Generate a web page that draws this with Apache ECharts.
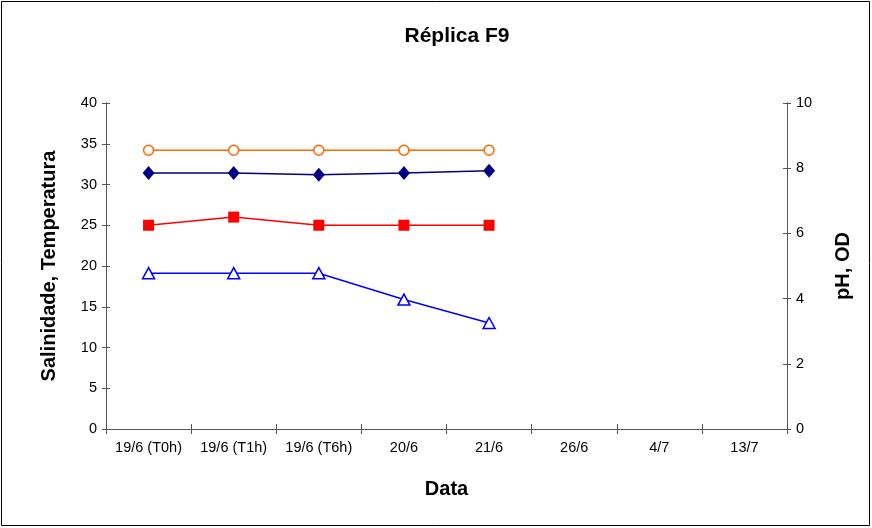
<!DOCTYPE html>
<html><head><meta charset="utf-8">
<script src="https://cdn.jsdelivr.net/npm/echarts@6/dist/echarts.min.js"></script>
<style>html,body{margin:0;padding:0;background:#fff}#c{width:872px;height:528px}</style>
</head><body><div id="c"></div>
<script>
const categories = ['19/6 (T0h)', '19/6 (T1h)', '19/6 (T6h)', '20/6', '21/6', '26/6', '4/7', '13/7'];
const salinidade = [34.2, 34.2, 34.2, 34.2, 34.2];
const temperatura = [25, 26, 25, 25, 25];
const pH = [7.85, 7.85, 7.8, 7.85, 7.92];
const od = [4.78, 4.78, 4.78, 3.97, 3.25];
const leftTicks = [0, 5, 10, 15, 20, 25, 30, 35, 40];
const rightTicks = [0, 2, 4, 6, 8, 10];

const font = 'Liberation Sans, Arial, sans-serif';
const axisCol = '#555';
const tickSize = 14.5;
const chart = echarts.init(document.getElementById('c'), null, {renderer: 'canvas'});
function axisY(pos, ticks, name, labels, inside) {
  return {
    type: 'value', position: pos, min: ticks[0], max: ticks[ticks.length - 1],
    interval: ticks[1] - ticks[0],
    name: labels ? name : '', nameLocation: 'middle', nameGap: pos === 'left' ? 47 : 46,
    nameTextStyle: {fontFamily: font, fontWeight: 'bold', fontSize: 20, color: '#000'},
    axisLine: {show: true, lineStyle: {color: axisCol, width: 1}},
    axisTick: {show: true, inside: inside, length: 4, lineStyle: {color: axisCol}},
    axisLabel: {show: labels, fontFamily: font, fontSize: tickSize, color: '#000', margin: 9},
    splitLine: {show: false}
  };
}
chart.setOption({
  animation: false,
  backgroundColor: '#fff',
  title: {text: 'Réplica F9', left: 452, top: 21, textAlign: 'center',
    textStyle: {fontFamily: font, fontWeight: 'bold', fontSize: 21, color: '#000'}},
  grid: {left: 106, right: 85, top: 103, bottom: 99},
  xAxis: [{
    type: 'category', data: categories, boundaryGap: true,
    name: 'Data', nameLocation: 'middle', nameGap: 50,
    nameTextStyle: {fontFamily: font, fontWeight: 'bold', fontSize: 20, color: '#000'},
    axisLine: {lineStyle: {color: axisCol}},
    axisTick: {show: true, length: 5, alignWithLabel: false, lineStyle: {color: axisCol}},
    axisLabel: {fontFamily: font, fontSize: tickSize, color: '#000', margin: 11, interval: 0}
  }, {
    type: 'category', data: categories, boundaryGap: true, position: 'bottom',
    axisLine: {show: false}, axisLabel: {show: false},
    axisTick: {show: true, inside: true, length: 5, lineStyle: {color: axisCol}}
  }],
  yAxis: [
    axisY('left', leftTicks, 'Salinidade, Temperatura', true, false),
    axisY('right', rightTicks, 'pH, OD', true, false),
    axisY('left', leftTicks, '', false, true),
    axisY('right', rightTicks, '', false, true)
  ],
  graphic: [{type: 'rect', shape: {x: 1.5, y: 1.5, width: 868, height: 524},
    style: {fill: 'none', stroke: '#000', lineWidth: 1}, silent: true}],
  series: [
    {name: 'Salinidade', type: 'line', yAxisIndex: 0, data: salinidade,
     symbol: 'circle', symbolSize: 10, showAllSymbol: true,
     lineStyle: {color: '#FF6600', width: 1.5},
     itemStyle: {color: '#fff', borderColor: '#FF6600', borderWidth: 1.5}},
    {name: 'pH', type: 'line', yAxisIndex: 1, data: pH,
     symbol: 'diamond', symbolSize: [12, 14],
     lineStyle: {color: '#000080', width: 1.5},
     itemStyle: {color: '#000080', borderColor: '#000080', borderWidth: 0}},
    {name: 'Temperatura', type: 'line', yAxisIndex: 0, data: temperatura,
     symbol: 'rect', symbolSize: 11,
     lineStyle: {color: '#FF0000', width: 1.5},
     itemStyle: {color: '#FF0000', borderColor: '#FF0000', borderWidth: 0}},
    {name: 'OD', type: 'line', yAxisIndex: 1, data: od,
     symbol: 'triangle', symbolSize: [12, 11],
     lineStyle: {color: '#0000FF', width: 1.5},
     itemStyle: {color: '#fff', borderColor: '#0000FF', borderWidth: 1.5}}
  ]
});
</script></body></html>
